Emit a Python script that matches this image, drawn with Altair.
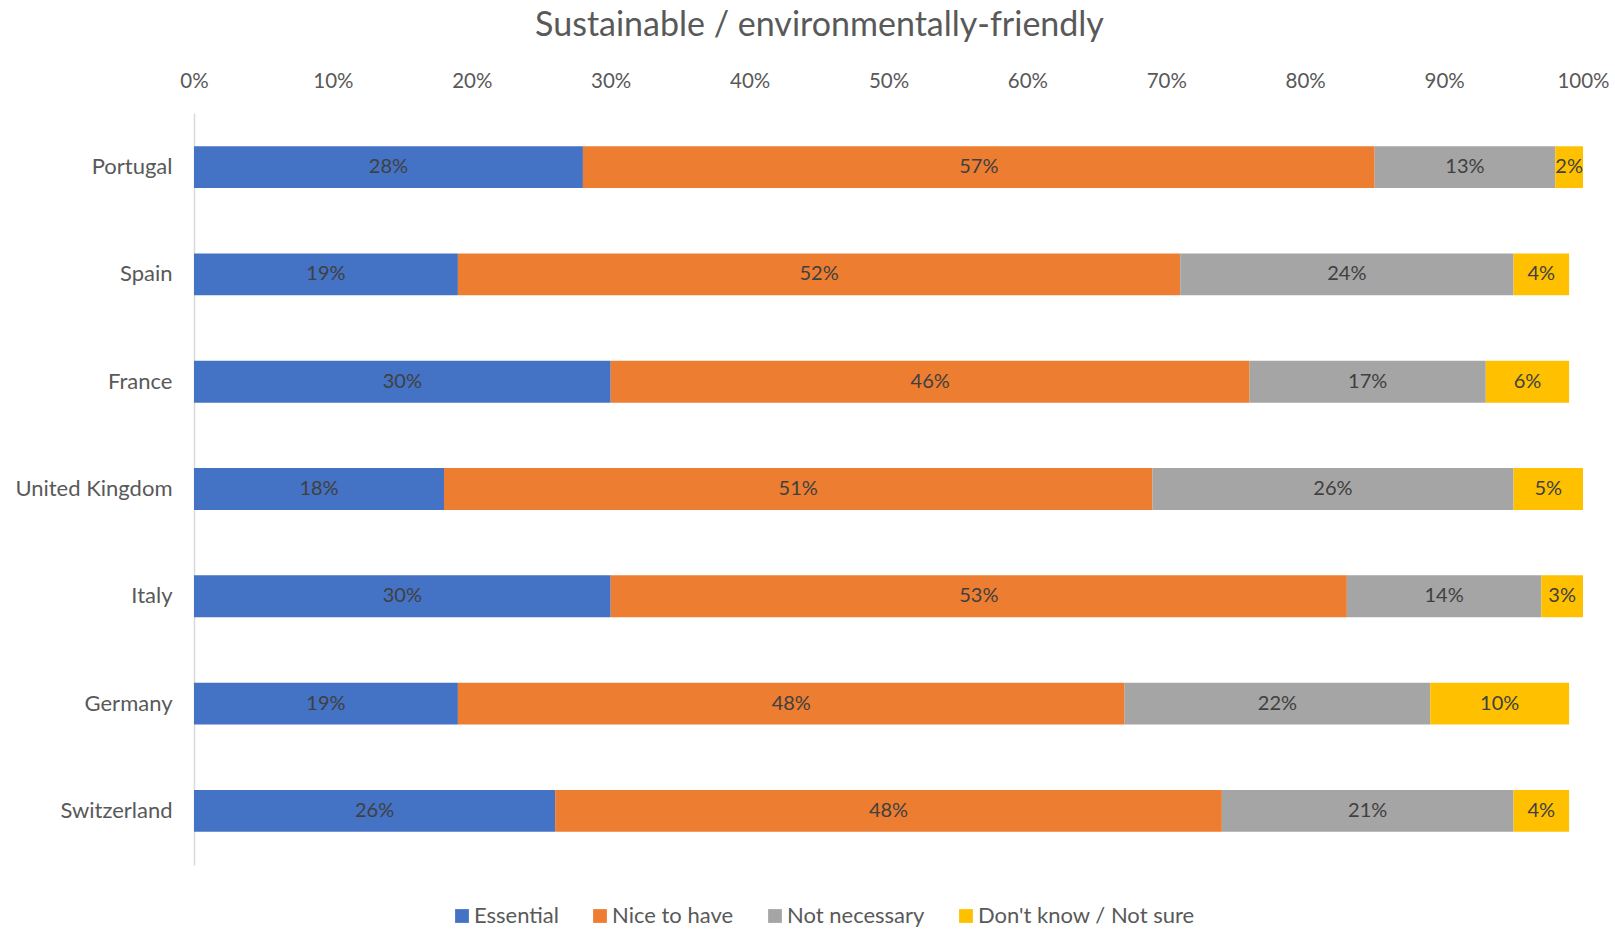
import altair as alt
import pandas as pd

countries = ["Portugal", "Spain", "France", "United Kingdom", "Italy", "Germany", "Switzerland"]
categories = ["Essential", "Nice to have", "Not necessary", "Don't know / Not sure"]
colors = ["#4472C4", "#ED7D31", "#A5A5A5", "#FFC000"]

essential = [28, 19, 30, 18, 30, 19, 26]
nice_to_have = [57, 52, 46, 51, 53, 48, 48]
not_necessary = [13, 24, 17, 26, 14, 22, 21]
dont_know = [2, 4, 6, 5, 3, 10, 4]

series = [essential, nice_to_have, not_necessary, dont_know]
rows = []
for ci, (cat, vals) in enumerate(zip(categories, series)):
    for country, v in zip(countries, vals):
        rows.append({"country": country, "category": cat, "order": ci, "value": v / 100})
df = pd.DataFrame(rows)

FONT = "Lato"
TEXT = "#595959"

base = alt.Chart(df).transform_stack(
    stack="value",
    groupby=["country"],
    sort=[alt.SortField("order", order="ascending")],
    as_=["x0", "x1"],
).transform_calculate(mid="(datum.x0 + datum.x1) / 2")

y_enc = alt.Y(
    "country:N",
    sort=countries,
    scale=alt.Scale(paddingInner=0.61, paddingOuter=0.31),
    axis=alt.Axis(
        title=None,
        ticks=False,
        domainColor="#D9D9D9",
        domainWidth=1.5,
        labelFontSize=22,
        labelColor=TEXT,
        labelFont=FONT,
        labelPadding=22,
    ),
)

bars = base.mark_bar().encode(
    x=alt.X(
        "x0:Q",
        scale=alt.Scale(domain=[0, 1]),
        axis=alt.Axis(
            orient="top",
            format=".0%",
            values=[i / 10 for i in range(11)],
            title=None,
            domain=False,
            ticks=False,
            grid=False,
            labelFontSize=20.5,
            labelColor=TEXT,
            labelFont=FONT,
            labelPadding=22,
            labelFlush=False,
        ),
    ),
    x2="x1:Q",
    y=y_enc,
    color=alt.Color(
        "category:N",
        sort=categories,
        scale=alt.Scale(domain=categories, range=colors),
        legend=alt.Legend(
            title=None,
            orient="none",
            direction="horizontal",
            legendX=257,
            legendY=792,
            symbolType="square",
            symbolSize=190,
            symbolStrokeWidth=0,
            labelFontSize=22,
            labelColor=TEXT,
            labelFont=FONT,
            labelOffset=1,
            labelLimit=400,
            columnPadding=30,
        ),
    ),
)

labels = base.mark_text(fontSize=20, font=FONT, color="#404040").encode(
    x="mid:Q",
    y=alt.Y("country:N", sort=countries),
    text=alt.Text("value:Q", format=".0%"),
)

chart = (
    alt.layer(bars, labels)
    .properties(
        width=1389,
        height=752,
        autosize=alt.AutoSizeParams(type="none"),
        padding={"left": 194, "top": 113, "right": 32, "bottom": 64},
        title=alt.TitleParams(
            "Sustainable / environmentally-friendly",
            fontSize=34,
            font=FONT,
            fontWeight="normal",
            color=TEXT,
            anchor="middle",
            dx=-69,
            offset=28,
        ),
    )
    .configure(background="white")
    .configure_view(strokeWidth=0, stroke=None)
)

chart.save("out.html", embed_options={"renderer": "svg", "actions": False})
